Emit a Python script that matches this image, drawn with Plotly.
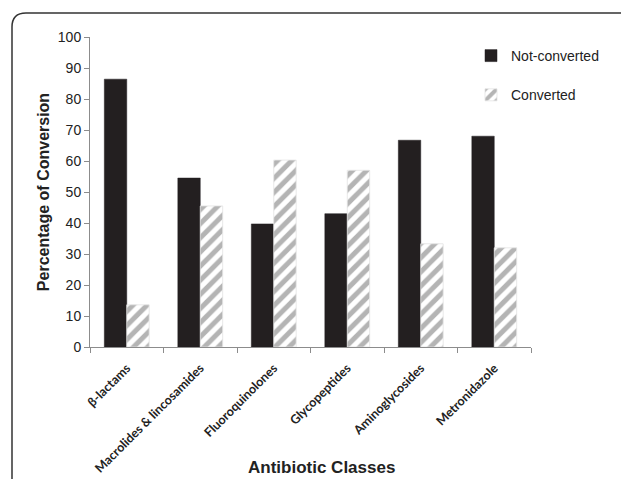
import plotly.graph_objects as go

categories = ["β-lactams", "Macrolides & lincosamides", "Fluoroquinolones",
              "Glycopeptides", "Aminoglycosides", "Metronidazole"]
not_converted = [86.4, 54.5, 39.7, 43.0, 66.7, 68.0]
converted = [13.6, 45.5, 60.3, 57.0, 33.3, 32.0]
y_ticks = [0, 10, 20, 30, 40, 50, 60, 70, 80, 90, 100]

W, H = 621, 479
L, R, T, B = 90, 531, 37, 347  # plot area in pixels


def px(x):
    return (x - L) / (R - L)


def py(y):
    return (B - y) / (B - T)


fig = go.Figure()
fig.add_trace(go.Bar(
    x=categories, y=not_converted, name="Not-converted",
    marker=dict(color="#231f20", line=dict(color="#231f20", width=0.5)),
    legendgroup="a",
))
fig.add_trace(go.Bar(
    x=categories, y=converted, name="Converted",
    marker=dict(color="white", line=dict(color="#e3e3e3", width=0.8),
                pattern=dict(shape="/", fgcolor="#6a6a6a", bgcolor="white",
                             size=10, solidity=0.5)),
    legendgroup="b",
))

# rounded frame around the figure
frame = (f"M {px(12)},{py(490)} L {px(12)},{py(27)} "
         f"Q {px(12)},{py(13)} {px(26)},{py(13)} L {px(640)},{py(13)}")
fig.add_shape(type="path", path=frame, xref="paper", yref="paper",
              line=dict(color="#333333", width=1.5))

fig.add_annotation(text="<b>Antibiotic Classes</b>", xref="paper", yref="paper",
                   x=px(321), y=py(467), yanchor="middle", showarrow=False,
                   font=dict(family="Liberation Sans, Arial", size=17, color="#222222"))

fig.update_layout(
    width=W, height=H,
    margin=dict(l=L, r=W - R, t=T, b=H - B, autoexpand=False),
    paper_bgcolor="white", plot_bgcolor="white",
    barmode="group", bargap=0.39, bargroupgap=0,
    font=dict(family="Liberation Sans, Arial", color="#222222"),
    legend=dict(x=px(471), y=py(40), xanchor="left", yanchor="top",
                font=dict(size=14, color="#222222"), tracegroupgap=18,
                bgcolor="rgba(0,0,0,0)"),
    xaxis=dict(tickangle=-45, tickson="boundaries", ticks="outside", ticklen=5,
               tickcolor="#8c8c8c", showline=True, linecolor="#8c8c8c", linewidth=1,
               tickfont=dict(family="Lato, Carlito, sans-serif", size=12.5,
                             color="#222222", weight=700),
               ticklabelstandoff=8, showgrid=False, automargin=False),
    yaxis=dict(range=[0, 100], tickvals=y_ticks, ticks="outside", ticklen=5,
               tickcolor="#8c8c8c", showline=True, linecolor="#8c8c8c", linewidth=1,
               showgrid=False, zeroline=False, automargin=False,
               tickfont=dict(size=14, color="#222222"),
               title=dict(text="<b>Percentage of Conversion</b>", standoff=4,
                          font=dict(size=16, color="#222222"))),
)

fig.write_html("out.html")
